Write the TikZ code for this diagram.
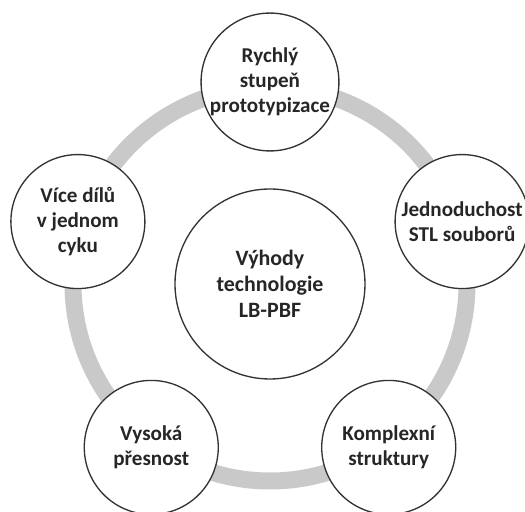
\documentclass[tikz,border=0pt]{standalone}
\usepackage{fontspec}
\setmainfont{Carlito}
\usepackage{tikz}
\definecolor{ringgray}{RGB}{201,201,201}
\definecolor{textgray}{RGB}{38,38,38}

\begin{document}
\begin{tikzpicture}[
    bubble/.style={circle, draw=black!80, line width=0.04cm, fill=white,
        minimum size=4.02cm, inner sep=0pt, align=center, text=textgray,
        font=\fontsize{18}{21.5}\selectfont\bfseries},
    hub/.style={bubble, minimum size=5.7cm,
        font=\fontsize{18.7}{22.3}\selectfont\bfseries}]
    \useasboundingbox (-8.1,-6.84) rectangle (7.65,8.52);
    \draw[ringgray, line width=0.51cm] (0,0) circle (5.91);

    \node[hub] (vyhody) at (0,0) {Výhody\\technologie\\LB-PBF};

    \node[bubble] (rychly) at (90:6.06) {Rychlý\\stupeň\\prototypizace};
    \node[bubble] (jednoduchost) at (18:6.06) {Jednoduchost\\STL souborů};
    \node[bubble] (komplexni) at (-54:6.06) {Komplexní\\struktury};
    \node[bubble] (vysoka) at (234:6.06) {Vysoká\\přesnost};
    \node[bubble] (vice) at (162:6.06) {Více dílů\\v jednom\\cyku};
  \end{tikzpicture}
\end{document}
